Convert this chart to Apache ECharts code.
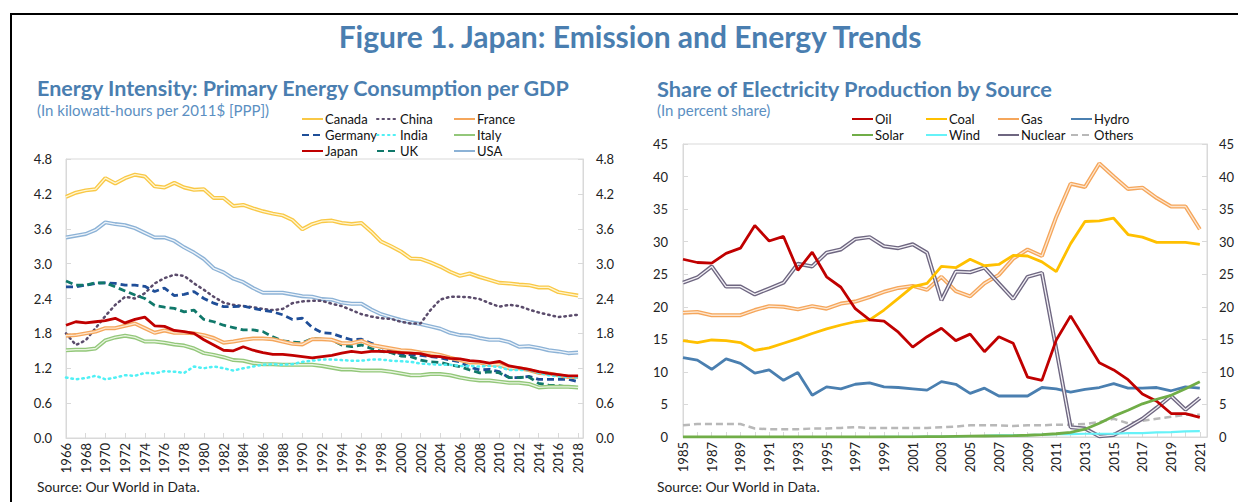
<!DOCTYPE html>
<html>
<head>
<meta charset="utf-8">
<script src="https://cdn.jsdelivr.net/npm/echarts/dist/echarts.min.js"></script>
<style>
html,body{margin:0;padding:0;background:#fff;}
#c{width:1238px;height:502px;}
</style>
</head>
<body>
<div id="c"></div>
<script>
// ---------- Left chart: energy intensity (kWh per 2011$ PPP) ----------
const yearsL = [];
for (let y = 1966; y <= 2018; y++) yearsL.push(y);

const canada = [4.15,4.22,4.26,4.28,4.47,4.38,4.47,4.53,4.50,4.33,
  4.31,4.39,4.31,4.27,4.28,4.13,4.13,3.99,4.01,3.95,
  3.90,3.86,3.83,3.75,3.59,3.68,3.73,3.74,3.70,3.68,
  3.70,3.55,3.38,3.30,3.21,3.09,3.08,3.02,2.95,2.86,
  2.79,2.83,2.77,2.72,2.67,2.66,2.64,2.63,2.59,2.59,
  2.51,2.48,2.45];
const china = [1.80,1.60,1.68,1.89,2.10,2.29,2.43,2.40,2.49,2.66,
  2.75,2.81,2.79,2.66,2.55,2.43,2.33,2.29,2.27,2.25,
  2.22,2.20,2.22,2.32,2.35,2.36,2.36,2.31,2.27,2.20,
  2.13,2.09,2.06,2.05,2.00,1.97,1.97,2.20,2.38,2.43,
  2.43,2.42,2.39,2.32,2.26,2.29,2.27,2.21,2.16,2.12,
  2.08,2.10,2.12];
const france = [1.76,1.77,1.80,1.83,1.89,1.89,1.93,1.97,1.89,1.81,
  1.85,1.81,1.81,1.80,1.77,1.72,1.64,1.66,1.69,1.71,
  1.71,1.70,1.66,1.62,1.61,1.70,1.70,1.69,1.63,1.63,
  1.67,1.60,1.57,1.54,1.51,1.50,1.47,1.46,1.43,1.38,
  1.34,1.30,1.30,1.26,1.26,1.20,1.20,1.17,1.12,1.11,
  1.08,1.05,1.05];
const germany = [2.60,2.60,2.63,2.66,2.67,2.66,2.63,2.63,2.61,2.52,
  2.58,2.45,2.47,2.52,2.40,2.32,2.26,2.26,2.27,2.23,
  2.20,2.17,2.12,2.04,2.06,1.90,1.81,1.80,1.74,1.69,
  1.70,1.63,1.56,1.49,1.45,1.43,1.42,1.40,1.38,1.34,
  1.31,1.22,1.17,1.18,1.14,1.04,1.04,1.06,1.01,1.01,
  1.01,1.01,0.97];
const india = [1.04,1.01,1.03,1.07,1.01,1.04,1.08,1.07,1.12,1.11,
  1.15,1.14,1.12,1.23,1.20,1.23,1.20,1.16,1.20,1.23,
  1.26,1.27,1.26,1.27,1.31,1.33,1.35,1.35,1.34,1.33,
  1.33,1.35,1.35,1.33,1.32,1.31,1.28,1.27,1.26,1.26,
  1.24,1.24,1.23,1.24,1.22,1.17,1.17,1.17,1.12,1.08,
  1.06,1.05,1.04];
const italy = [1.51,1.52,1.52,1.54,1.68,1.73,1.76,1.73,1.66,1.66,
  1.64,1.61,1.59,1.54,1.46,1.43,1.39,1.34,1.33,1.29,
  1.27,1.27,1.26,1.26,1.26,1.26,1.24,1.21,1.18,1.18,
  1.16,1.16,1.16,1.14,1.11,1.08,1.08,1.10,1.10,1.08,
  1.04,1.01,0.99,0.99,0.97,0.95,0.95,0.93,0.87,0.88,
  0.88,0.88,0.87];
const japan = [1.94,2.00,1.98,2.00,2.02,2.06,1.98,2.04,2.08,1.93,
  1.92,1.85,1.83,1.80,1.69,1.60,1.51,1.50,1.57,1.51,
  1.47,1.44,1.44,1.42,1.40,1.38,1.40,1.42,1.46,1.49,
  1.47,1.49,1.49,1.48,1.47,1.46,1.45,1.41,1.40,1.37,
  1.36,1.33,1.32,1.29,1.32,1.24,1.21,1.18,1.14,1.11,
  1.09,1.07,1.07];
const uk = [2.70,2.63,2.63,2.67,2.67,2.60,2.53,2.46,2.40,2.28,
  2.25,2.23,2.17,2.20,2.04,2.00,1.94,1.90,1.86,1.86,
  1.83,1.74,1.67,1.65,1.64,1.71,1.70,1.69,1.60,1.57,
  1.60,1.54,1.49,1.47,1.41,1.40,1.34,1.31,1.30,1.26,
  1.23,1.17,1.12,1.14,1.12,1.04,1.04,1.05,0.94,0.91,
  0.90,0.88,0.87];
const usa = [3.45,3.48,3.51,3.58,3.71,3.68,3.66,3.61,3.53,3.45,
  3.45,3.39,3.28,3.19,3.08,2.92,2.85,2.74,2.68,2.58,
  2.50,2.50,2.50,2.47,2.44,2.43,2.39,2.38,2.33,2.31,
  2.31,2.21,2.13,2.08,2.03,1.99,1.96,1.92,1.88,1.81,
  1.77,1.76,1.72,1.69,1.69,1.65,1.57,1.58,1.55,1.51,
  1.49,1.46,1.47];

// ---------- Right chart: share of electricity production (%) ----------
const yearsR = [];
for (let y = 1985; y <= 2021; y++) yearsR.push(y);

const oil = [27.3,26.8,26.7,28.2,29.0,32.5,30.1,30.8,25.6,28.4,
  24.6,23.0,19.7,18.0,17.8,16.1,13.8,15.4,16.7,14.8,
  15.8,13.1,15.4,14.4,9.2,8.7,14.9,18.6,15.0,11.4,
  10.3,8.8,6.6,5.5,3.6,3.6,3.0];
const coal = [14.8,14.5,14.9,14.8,14.5,13.3,13.7,14.4,15.1,15.9,
  16.6,17.2,17.7,18.0,19.5,21.3,23.1,23.6,26.2,26.0,
  27.3,26.3,26.5,27.9,27.8,26.9,25.4,29.7,33.1,33.2,
  33.6,31.1,30.7,29.9,29.9,29.9,29.6];
const gas = [19.1,19.2,18.7,18.7,18.7,19.5,20.1,20.0,19.6,20.1,
  19.7,20.5,20.8,21.5,22.3,22.9,23.2,22.6,24.6,22.4,
  21.6,23.6,24.9,27.4,28.8,27.8,33.8,38.9,38.4,42.0,
  40.0,38.1,38.3,36.7,35.4,35.4,31.9];
const hydro = [12.2,11.8,10.4,12.0,11.3,9.8,10.3,8.7,9.9,6.4,
  7.7,7.4,8.1,8.3,7.7,7.6,7.4,7.2,8.5,8.1,
  6.7,7.5,6.3,6.3,6.3,7.6,7.4,6.9,7.3,7.6,
  8.2,7.5,7.5,7.6,7.1,7.7,7.5];
const solar = [0,0,0,0,0,0,0,0,0,0,
  0,0,0,0,0,0.02,0.03,0.05,0.07,0.1,
  0.13,0.15,0.17,0.2,0.27,0.35,0.5,0.7,1.2,2.1,
  3.2,4.1,5.1,5.8,6.4,7.4,8.5];
const wind = [0,0,0,0,0,0,0,0,0,0,
  0,0,0,0,0.01,0.01,0.03,0.05,0.07,0.1,
  0.15,0.18,0.24,0.27,0.3,0.37,0.45,0.45,0.5,0.5,
  0.5,0.6,0.6,0.7,0.75,0.85,0.9];
const nuclear = [23.7,24.5,26.2,23.1,23.1,21.9,22.8,23.7,26.6,26.2,
  28.3,28.8,30.4,30.7,29.3,29.0,29.6,28.3,21.0,25.4,
  25.3,26.0,23.6,21.2,24.6,25.2,13.5,1.5,1.3,0.1,
  0.3,1.5,2.8,4.5,6.3,4.2,6.0];
const others = [1.8,2.0,2.0,2.0,2.0,1.3,1.2,1.2,1.2,1.3,
  1.3,1.4,1.5,1.4,1.4,1.4,1.4,1.4,1.5,1.6,
  1.8,1.8,1.8,1.7,1.8,1.8,1.9,1.9,2.0,2.3,
  2.8,2.1,2.5,2.8,3.1,3.4,3.4];

// ---------- Build ----------
const FONT = 'Lato';
const pair = (xs, ys) => ys.map((v, i) => [xs[i], v]);
const series = [];
function solid(name, xs, ys, color, width, grid, type) {
  const dotted = Array.isArray(type) && type[0] <= 2;
  series.push({
    name, type: 'line', xAxisIndex: grid, yAxisIndex: grid * 2,
    data: pair(xs, ys), symbol: 'none', animation: false,
    lineStyle: { color, width, type: type || 'solid', cap: dotted ? 'round' : 'butt' },
    itemStyle: { color }
  });
}
function dbl(name, xs, ys, outer, inner, grid) {
  series.push({
    name, type: 'line', xAxisIndex: grid, yAxisIndex: grid * 2,
    data: pair(xs, ys), symbol: 'none', animation: false,
    lineStyle: { color: outer, width: 4 }, itemStyle: { color: outer }
  });
  series.push({
    name: name + ' ', type: 'line', xAxisIndex: grid, yAxisIndex: grid * 2,
    data: pair(xs, ys), symbol: 'none', animation: false, silent: true,
    lineStyle: { color: inner, width: 1.3 }, itemStyle: { color: inner }
  });
}

// left
dbl('Canada', yearsL, canada, '#f9c846', '#fff6d2', 0);
dbl('USA', yearsL, usa, '#8cb2d6', '#eef4fa', 0);
solid('China', yearsL, china, '#5a4b6b', 2.5, 0, [1.5, 4]);
solid('Germany', yearsL, germany, '#1f4e98', 2.8, 0, [7, 4]);
solid('UK', yearsL, uk, '#10786a', 2.8, 0, [7, 4]);
dbl('France', yearsL, france, '#f5a65b', '#fde6cf', 0);
dbl('Italy', yearsL, italy, '#93c77a', '#e8f5e0', 0);
solid('India', yearsL, india, '#4ff0f5', 2.5, 0, [1.5, 4]);
solid('Japan', yearsL, japan, '#c00000', 2.8, 0);

// right
solid('Others', yearsR, others, '#b8b8b8', 2.5, 1, [7, 4]);
solid('Hydro', yearsR, hydro, '#4a7fb0', 2.8, 1);
dbl('Gas', yearsR, gas, '#f5a65b', '#fde6cf', 1);
dbl('Nuclear', yearsR, nuclear, '#6e6680', '#f2f0f5', 1);
solid('Coal', yearsR, coal, '#ffc000', 2.8, 1);
solid('Oil', yearsR, oil, '#c00000', 2.8, 1);
solid('Wind', yearsR, wind, '#66f2f8', 2.2, 1);
solid('Solar', yearsR, solar, '#70ad47', 2.8, 1);

const axisGray = '#d9d9d9';
const labelStyle = { color: '#222', fontSize: 13, fontFamily: FONT };

function xAx(grid, min, max, interval, show) {
  return {
    type: 'value', gridIndex: grid, min, max, interval,
    axisLine: { show: true, lineStyle: { color: axisGray } },
    axisTick: { show: true, inside: true, length: 5, lineStyle: { color: axisGray } },
    splitLine: { show: false },
    axisLabel: Object.assign({}, labelStyle, {
      rotate: 90, margin: 5, showMaxLabel: true, hideOverlap: false,
      formatter: v => show(v) ? String(v) : ''
    })
  };
}
function yAx(grid, pos, max, interval, dec, margin) {
  return {
    type: 'value', gridIndex: grid, position: pos, min: 0, max, interval,
    axisLine: { show: true, lineStyle: { color: axisGray } },
    axisTick: { show: true, inside: true, length: 5, lineStyle: { color: axisGray } },
    splitLine: { show: false },
    axisLabel: Object.assign({}, labelStyle, { margin, formatter: v => v.toFixed(dec) })
  };
}

function legendCol(left, top, names) {
  return {
    orient: 'vertical', left, top, data: names,
    itemWidth: 21, itemHeight: 10, itemGap: 2, padding: 0,
    selectedMode: false,
    itemStyle: { opacity: 0 },
    textStyle: { fontFamily: FONT, fontSize: 13, color: '#111', lineHeight: 14, padding: [0, 0, 0, -3] }
  };
}

const T = (text, x, y, font, fill, align) => ({
  type: 'text', x, y,
  style: { text, x: 0, y: 0, font, fill, textAlign: align || 'left', textVerticalAlign: 'middle' }
});

const option = {
  animation: false,
  backgroundColor: '#fff',
  grid: [
    { left: 66, top: 159, width: 517, height: 279, show: true, borderColor: axisGray, borderWidth: 1, containLabel: false },
    { left: 683, top: 144, width: 524, height: 293, show: true, borderColor: axisGray, borderWidth: 1, containLabel: false }
  ],
  xAxis: [
    xAx(0, 1966, 2018.5, 2, v => Number.isInteger(v)),
    xAx(1, 1985, 2021.5, 1, v => Number.isInteger(v) && v % 2 === 1)
  ],
  yAxis: [
    yAx(0, 'left', 4.8, 0.6, 1, 14),
    yAx(0, 'right', 4.8, 0.6, 1, 13),
    yAx(1, 'left', 45, 5, 0, 15),
    yAx(1, 'right', 45, 5, 0, 12)
  ],
  legend: [
    legendCol(301, 112, ['Canada', 'Germany', 'Japan']),
    legendCol(376, 112, ['China', 'India', 'UK']),
    legendCol(453, 112, ['France', 'Italy', 'USA']),
    legendCol(851, 112, ['Oil', 'Solar']),
    legendCol(925, 112, ['Coal', 'Wind']),
    legendCol(997, 112, ['Gas', 'Nuclear']),
    legendCol(1070, 112, ['Hydro', 'Others'])
  ],
  graphic: [
    { type: 'rect', shape: { x: 11, y: 14, width: 1240, height: 500 }, style: { fill: 'none', stroke: '#000', lineWidth: 2 }, silent: true },
    T('Figure 1. Japan: Emission and Energy Trends', 630, 36, 'bold 30px ' + FONT, '#4a7eb0', 'center'),
    T('Energy Intensity: Primary Energy Consumption per GDP', 37, 88, 'bold 21.5px ' + FONT, '#4a7eb0'),
    T('(In kilowatt-hours per 2011$ [PPP])', 37, 110, '15px ' + FONT, '#5b8fc2'),
    T('Share of Electricity Production by Source', 657, 88, 'bold 21.8px ' + FONT, '#4a7eb0'),
    T('(In percent share)', 657, 110, '15px ' + FONT, '#5b8fc2'),
    T('Source: Our World in Data.', 37, 486, '13.8px ' + FONT, '#222'),
    T('Source: Our World in Data.', 657, 486, '13.8px ' + FONT, '#222')
  ],
  series
};

const chart = echarts.init(document.getElementById('c'), null, { renderer: 'svg' });
chart.setOption(option);
</script>
</body>
</html>
